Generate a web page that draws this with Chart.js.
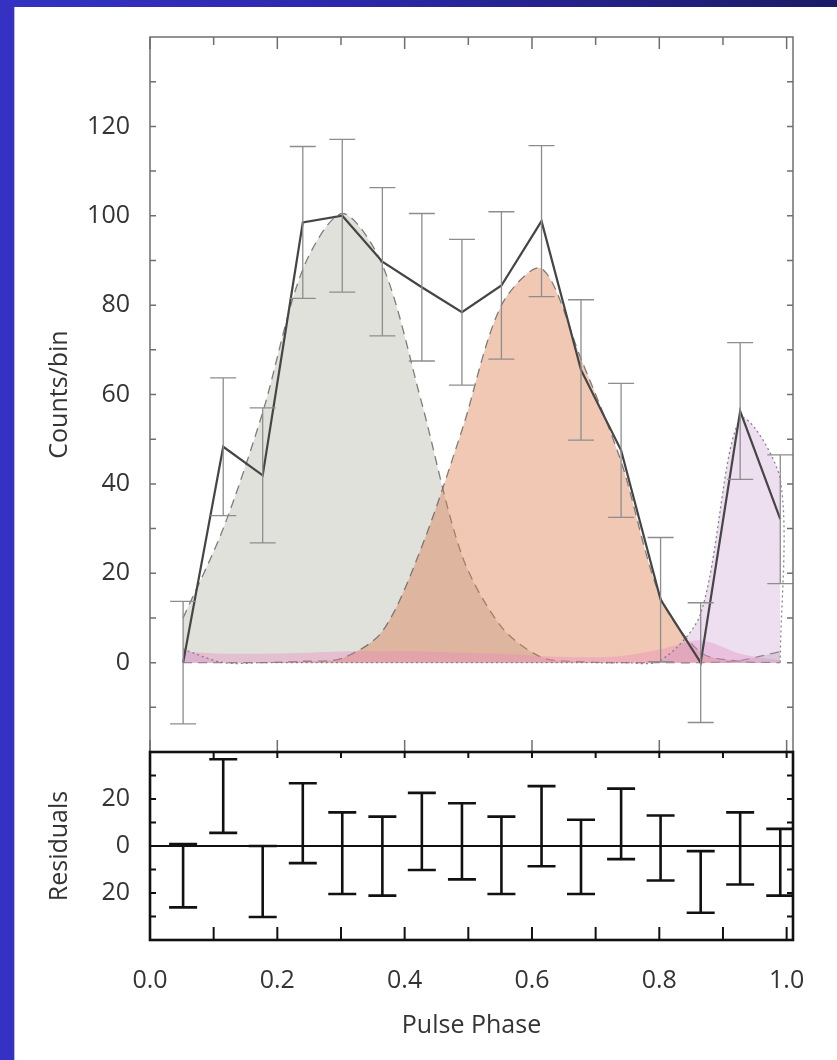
<!DOCTYPE html>
<html><head><meta charset="utf-8">
<script src="https://cdn.jsdelivr.net/npm/chart.js@4/dist/chart.umd.min.js"></script>
<style>
html,body{margin:0;padding:0;width:837px;height:1060px;overflow:hidden;}
body{background:linear-gradient(to right,#3432c4 0%,#2c2ab0 35%,#1c1b66 100%);position:relative;}
#side{position:absolute;left:0;top:0;width:14px;bottom:0;background:#3431c3;}
#panel{position:absolute;left:14px;top:7px;right:0;bottom:0;background:#fff;border-left:1px solid #b9b9e2;}
canvas{position:absolute;left:0;}
#c1{top:0;}
#c2{top:740px;}
</style></head><body>
<div id="side"></div>
<div id="panel"></div>
<canvas id="c1" width="837" height="760"></canvas>
<canvas id="c2" width="837" height="320"></canvas>
<script>
// ---- data ----
const phase = [0.052,0.115,0.177,0.240,0.302,0.365,0.427,0.490,0.552,0.615,0.677,0.740,0.802,0.865,0.927,0.990];
const counts = [0,48.3,41.9,98.5,100,89.7,84,78.4,84.4,98.8,65.5,47.5,14.1,0,56.3,32.1];
const countErr = [13.7,15.4,15.1,17,17.1,16.6,16.5,16.3,16.5,16.9,15.7,15,13.9,13.4,15.3,14.4];
const compGray = [10,30,56,88,100.5,89,58,24,8,1.2,0.2,0,0,0,0.5,2.5];
const compOrange = [0,0,0,0.3,1,7,26,52,80,88.2,68,45,14.6,2.3,0.3,0];
const compPink = [2.5,2,2,2.2,2.5,2.5,2.5,2.2,2,1.5,1.2,1.5,3,5,2,0.5];
const violetPhase = [0.052,0.115,0.177,0.240,0.302,0.365,0.427,0.490,0.552,0.615,0.677,0.740,0.802,0.865,0.927,0.990,0.990];
const compViolet = [3,0,0,0,0,0,0,0,0,0,0,0,0.5,11,54.5,41,0];
const residual = [-12.65,21.25,-15.1,9.7,-3.05,-4.3,6.2,2,-3.95,8.45,-4.6,9.4,-0.85,-15.3,-1.05,-6.9];
const residualErr = [13.45,15.65,15.1,17,17.35,16.8,16.4,16.2,16.45,17.05,15.8,15,13.85,13.1,15.35,14.2];

const xTicks = [0,0.1,0.2,0.3,0.4,0.5,0.6,0.7,0.8,0.9,1.0];
const xTickLabels = ['0.0','','0.2','','0.4','','0.6','','0.8','','1.0'];
const countTicks = [-10,0,10,20,30,40,50,60,70,80,90,100,110,120,130];
const countTickLabels = ['','0','','20','','40','','60','','80','','100','','120',''];
const residTicks = [-30,-20,-10,0,10,20,30];
const residTickLabels = ['','20','','0','','20',''];

const FONT = 'Open Sans';
const TXT = '#343434';

const pts = (xs, ys) => xs.map((x, i) => ({x, y: ys[i]}));

function setTicks(arr){ return function(s){ s.ticks = arr.map(v => ({value: v})); }; }
function noPad(s){ s.paddingTop = 0; s.paddingBottom = 0; s.paddingLeft = 0; s.paddingRight = 0; }

// ---------- top panel ----------
const topPlugin = {
  id: 'topPanel',
  afterDatasetsDraw(chart) {
    const {ctx, chartArea: a, scales: {x, y}} = chart;
    ctx.save();
    ctx.beginPath(); ctx.rect(a.left, a.top, a.right - a.left, a.bottom - a.top); ctx.clip();
    ctx.strokeStyle = '#8d8d8d'; ctx.lineWidth = 1.3;
    phase.forEach((p, i) => {
      const px = x.getPixelForValue(p);
      const t = y.getPixelForValue(counts[i] + countErr[i]);
      const b = y.getPixelForValue(counts[i] - countErr[i]);
      ctx.beginPath();
      ctx.moveTo(px, t); ctx.lineTo(px, b);
      ctx.moveTo(px - 13, t); ctx.lineTo(px + 13, t);
      ctx.moveTo(px - 13, b); ctx.lineTo(px + 13, b);
      ctx.stroke();
    });
    ctx.restore();
  },
  afterDraw(chart) {
    const {ctx, chartArea: a, scales: {x, y}} = chart;
    ctx.save();
    ctx.strokeStyle = '#6f6f6f'; ctx.lineWidth = 1.5;
    ctx.strokeRect(a.left, a.top, a.right - a.left, a.bottom - a.top);
    ctx.beginPath();
    countTicks.forEach(v => {
      const py = y.getPixelForValue(v);
      ctx.moveTo(a.left, py); ctx.lineTo(a.left + 6, py);
      ctx.moveTo(a.right, py); ctx.lineTo(a.right - 6, py);
    });
    xTicks.forEach((v, i) => {
      const px = x.getPixelForValue(v);
      const len = (i % 2 === 0) ? 12 : 8;
      ctx.moveTo(px, a.top); ctx.lineTo(px, a.top + len);
      if (i % 2 === 0) { ctx.moveTo(px, a.bottom); ctx.lineTo(px, a.bottom - 12); }
    });
    ctx.stroke();
    ctx.restore();
  }
};

new Chart(document.getElementById('c1'), {
  type: 'line',
  data: {
    datasets: [
      { data: pts(phase, counts), borderColor: '#454545', borderWidth: 2.2, pointRadius: 0, fill: false, tension: 0, order: 1 },
      { data: pts(violetPhase, compViolet), borderColor: 'rgba(120,110,130,0.85)', borderWidth: 1.3, borderDash: [2,3],
        backgroundColor: 'rgba(200,150,205,0.30)', fill: 'origin', pointRadius: 0, tension: 0.3, order: 2 },
      { data: pts(phase, compPink), borderColor: 'rgba(0,0,0,0)', borderWidth: 0,
        backgroundColor: 'rgba(235,130,185,0.35)', fill: 'origin', pointRadius: 0, tension: 0.3, order: 3 },
      { data: pts(phase, compOrange), borderColor: 'rgba(105,105,105,0.85)', borderWidth: 1.3, borderDash: [9,6],
        backgroundColor: 'rgba(219,124,76,0.42)', fill: 'origin', pointRadius: 0, tension: 0.3, order: 4 },
      { data: pts(phase, compGray), borderColor: 'rgba(105,105,105,0.85)', borderWidth: 1.3, borderDash: [9,6],
        backgroundColor: 'rgb(225,225,220)', fill: 'origin', pointRadius: 0, tension: 0.3, order: 5 }
    ]
  },
  options: {
    responsive: false, animation: false, events: [],
    layout: { padding: { top: 37, right: 44, bottom: 8, left: 0 } },
    plugins: { legend: { display: false }, tooltip: { enabled: false } },
    scales: {
      x: { type: 'linear', min: 0, max: 1.01, display: false, afterBuildTicks: setTicks(xTicks), afterFit: noPad },
      y: {
        type: 'linear', min: -20, max: 140,
        afterBuildTicks: setTicks(countTicks),
        afterFit(s) { s.width = 150; noPad(s); },
        grid: { display: false, drawTicks: false }, border: { display: false },
        ticks: { autoSkip: false, includeBounds: false, padding: 20, color: TXT, font: { family: FONT, size: 25 },
          callback: (v, i) => countTickLabels[i] },
        title: { display: true, text: 'Counts/bin', color: TXT, font: { family: FONT, size: 25 }, padding: { top: 45, bottom: 0 } }
      }
    }
  },
  plugins: [topPlugin]
});

// ---------- residual panel ----------
const botPlugin = {
  id: 'botPanel',
  afterDraw(chart) {
    const {ctx, chartArea: a, scales: {x, y}} = chart;
    ctx.save();
    ctx.beginPath(); ctx.rect(a.left, a.top, a.right - a.left, a.bottom - a.top); ctx.clip();
    ctx.strokeStyle = '#111'; ctx.lineWidth = 2.2;
    const z = y.getPixelForValue(0);
    ctx.beginPath(); ctx.moveTo(a.left, z); ctx.lineTo(a.right, z); ctx.stroke();
    ctx.lineWidth = 2.6;
    phase.forEach((p, i) => {
      const px = x.getPixelForValue(p);
      const t = y.getPixelForValue(residual[i] + residualErr[i]);
      const b = y.getPixelForValue(residual[i] - residualErr[i]);
      ctx.beginPath();
      ctx.moveTo(px, t); ctx.lineTo(px, b);
      ctx.moveTo(px - 14, t); ctx.lineTo(px + 14, t);
      ctx.moveTo(px - 14, b); ctx.lineTo(px + 14, b);
      ctx.stroke();
    });
    ctx.restore();
    ctx.save();
    ctx.strokeStyle = '#111'; ctx.lineWidth = 2.6;
    ctx.strokeRect(a.left, a.top, a.right - a.left, a.bottom - a.top);
    ctx.lineWidth = 2;
    ctx.beginPath();
    residTicks.forEach(v => {
      const py = y.getPixelForValue(v);
      ctx.moveTo(a.left, py); ctx.lineTo(a.left + 6, py);
      ctx.moveTo(a.right, py); ctx.lineTo(a.right - 6, py);
    });
    xTicks.forEach(v => {
      const px = x.getPixelForValue(v);
      ctx.moveTo(px, a.bottom); ctx.lineTo(px, a.bottom - 13);
      ctx.moveTo(px, a.top); ctx.lineTo(px, a.top + 6);
    });
    ctx.stroke();
    ctx.restore();
  }
};

new Chart(document.getElementById('c2'), {
  type: 'line',
  data: { datasets: [ { data: pts(phase, residual), showLine: false, pointRadius: 0 } ] },
  options: {
    responsive: false, animation: false, events: [],
    layout: { padding: { top: 12, right: 44, bottom: 8, left: 0 } },
    plugins: { legend: { display: false }, tooltip: { enabled: false } },
    scales: {
      x: {
        type: 'linear', min: 0, max: 1.01,
        afterBuildTicks: setTicks(xTicks),
        afterFit(s) { s.height = 112; noPad(s); },
        grid: { display: false, drawTicks: false }, border: { display: false },
        ticks: { autoSkip: false, includeBounds: false, maxRotation: 0, padding: 26, color: TXT, font: { family: FONT, size: 25 },
          callback: (v, i) => xTickLabels[i] },
        title: { display: true, text: 'Pulse Phase', color: TXT, font: { family: FONT, size: 25 }, padding: { top: 0, bottom: 11 } }
      },
      y: {
        type: 'linear', min: -40, max: 40,
        afterBuildTicks: setTicks(residTicks),
        afterFit(s) { s.width = 150; noPad(s); },
        grid: { display: false, drawTicks: false }, border: { display: false },
        ticks: { autoSkip: false, includeBounds: false, padding: 20, color: TXT, font: { family: FONT, size: 25 },
          callback: (v, i) => residTickLabels[i] },
        title: { display: true, text: 'Residuals', color: TXT, font: { family: FONT, size: 25 }, padding: { top: 45, bottom: 0 } }
      }
    }
  },
  plugins: [botPlugin]
});
</script>
</body></html>
